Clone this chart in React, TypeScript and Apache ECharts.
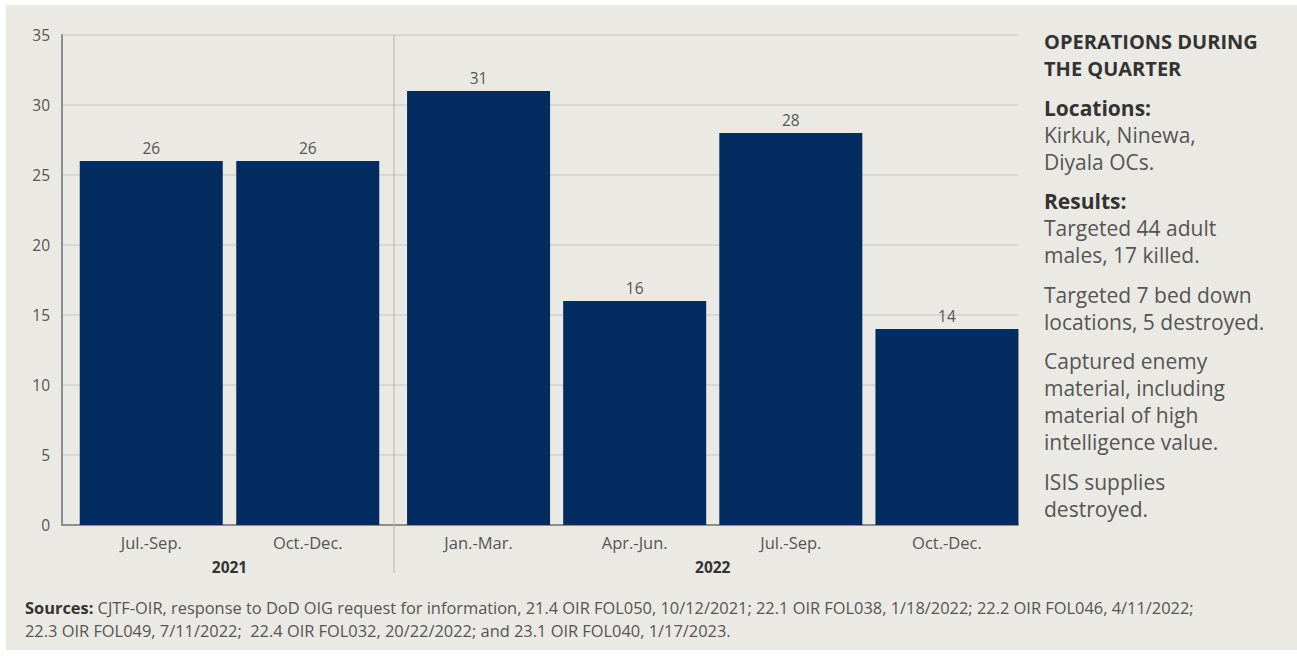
import React, { useEffect, useRef } from "react";
import * as echarts from "echarts";

const yearA = "2021";
const yearB = "2022";
const catsA = ["Jul.-Sep.", "Oct.-Dec."];
const catsB = ["Jan.-Mar.", "Apr.-Jun.", "Jul.-Sep.", "Oct.-Dec."];
const valsA = [26, 26];
const valsB = [31, 16, 28, 14];
const yTicks = { min: 0, max: 35, interval: 5 };

const sideTitle = ["OPERATIONS DURING", "THE QUARTER"];
const sideLines: { t: string; bold?: boolean; gap?: boolean }[] = [
  { t: "Locations:", bold: true, gap: true },
  { t: "Kirkuk, Ninewa," },
  { t: "Diyala OCs." },
  { t: "Results:", bold: true, gap: true },
  { t: "Targeted 44 adult" },
  { t: "males, 17 killed." },
  { t: "Targeted 7 bed down", gap: true },
  { t: "locations, 5 destroyed." },
  { t: "Captured enemy", gap: true },
  { t: "material, including" },
  { t: "material of high" },
  { t: "intelligence value." },
  { t: "ISIS supplies", gap: true },
  { t: "destroyed." },
];
const sourcesLabel = "Sources:";
const sourcesLines = [
  " CJTF-OIR, response to DoD OIG request for information, 21.4 OIR FOL050, 10/12/2021; 22.1 OIR FOL038, 1/18/2022; 22.2 OIR FOL046, 4/11/2022;",
  "22.3 OIR FOL049, 7/11/2022;  22.4 OIR FOL032, 20/22/2022; and 23.1 OIR FOL040, 1/17/2023.",
];

const FONT = "'Open Sans', Lato, sans-serif";
const NAVY = "#022b5f";
const TXT = "#555";

export default function App() {
  const ref = useRef<HTMLDivElement>(null);
  useEffect(() => {
    document.body.style.margin = "0";
    const chart = echarts.init(ref.current!, null, { renderer: "svg" });

    const plotTop = 35;
    const plotBottom = 525;
    const plotH = plotBottom - plotTop;

    const graphics: any[] = [
      {
        type: "rect",
        z: -10,
        silent: true,
        shape: { x: 6, y: 5, width: 1291, height: 645 },
        style: { fill: "#ebe9e3" },
      },
      {
        type: "line",
        z: 5,
        shape: { x1: 394, y1: plotTop, x2: 394, y2: 573 },
        style: { stroke: "#b5b3ae", lineWidth: 1 },
      },
    ];

    sideTitle.forEach((t, i) => {
      graphics.push({
        type: "text",
        x: 1044,
        y: 41 + i * 27,
        style: {
          text: t,
          font: `bold 20px ${FONT}`,
          fill: "#333",
          textVerticalAlign: "middle",
        },
      });
    });
    let y = 68;
    sideLines.forEach((l) => {
      y += l.gap ? 39.5 : 27;
      graphics.push({
        type: "text",
        x: 1044,
        y,
        style: {
          text: l.t,
          font: `${l.bold ? "bold " : ""}21px ${FONT}`,
          fill: l.bold ? "#333" : "#555",
          textVerticalAlign: "middle",
        },
      });
    });

    graphics.push({
      type: "text",
      x: 25,
      y: 607,
      style: {
        text: `{b|${sourcesLabel}}{n|${sourcesLines[0]}}`,
        rich: {
          b: { font: `bold 16.4px ${FONT}`, fill: "#333" },
          n: { font: `16.4px ${FONT}`, fill: "#555" },
        },
        textVerticalAlign: "middle",
      },
    });
    graphics.push({
      type: "text",
      x: 25,
      y: 630,
      style: {
        text: sourcesLines[1],
        font: `16.4px ${FONT}`,
        fill: "#555",
        textVerticalAlign: "middle",
      },
    });

    const hiddenY = (idx: number) => ({
      type: "value",
      gridIndex: idx,
      min: yTicks.min,
      max: yTicks.max,
      interval: yTicks.interval,
      show: false,
    });

    const catAxis = (idx: number, data: string[], name: string) => ({
      type: "category",
      gridIndex: idx,
      data,
      axisLine: { show: false },
      axisTick: { show: false },
      axisLabel: { color: TXT, fontSize: 16.5, fontFamily: FONT, margin: 9 },
      name,
      nameLocation: "middle",
      nameGap: 34,
      nameTextStyle: {
        color: "#333",
        fontWeight: "bold",
        fontSize: 15.5,
        fontFamily: FONT,
      },
    });

    const barSeries = (idx: number, data: number[]) => ({
      type: "bar",
      xAxisIndex: idx,
      yAxisIndex: idx,
      data,
      barWidth: 143,
      itemStyle: { color: NAVY },
      label: {
        show: true,
        position: "top",
        distance: 5,
        color: TXT,
        fontSize: 15.5,
        fontFamily: FONT,
      },
    });

    chart.setOption({
      animation: false,
      backgroundColor: "#ffffff",
      textStyle: { fontFamily: FONT },
      grid: [
        { left: 62, top: plotTop, width: 956, height: plotH },
        { left: 73, top: plotTop, width: 313, height: plotH },
        { left: 400.5, top: plotTop, width: 624.5, height: plotH },
      ],
      xAxis: [
        {
          type: "value",
          gridIndex: 0,
          min: 0,
          max: 1,
          axisLabel: { show: false },
          axisTick: { show: false },
          splitLine: { show: false },
          axisLine: { show: true, lineStyle: { color: "#8d8d8d", width: 2 } },
        },
        catAxis(1, catsA, yearA),
        catAxis(2, catsB, yearB),
      ],
      yAxis: [
        {
          type: "value",
          gridIndex: 0,
          min: yTicks.min,
          max: yTicks.max,
          interval: yTicks.interval,
          axisLine: { show: true, lineStyle: { color: "#8d8d8d", width: 2 } },
          axisTick: { show: false },
          axisLabel: { color: TXT, fontSize: 15.5, fontFamily: FONT, margin: 12 },
          splitLine: { lineStyle: { color: "#d3d1cb", width: 1.5 } },
        },
        hiddenY(1),
        hiddenY(2),
      ],
      series: [barSeries(1, valsA), barSeries(2, valsB)],
      graphic: graphics,
    });
    return () => chart.dispose();
  }, []);
  return <div ref={ref} style={{ width: 1297, height: 660 }} />;
}
